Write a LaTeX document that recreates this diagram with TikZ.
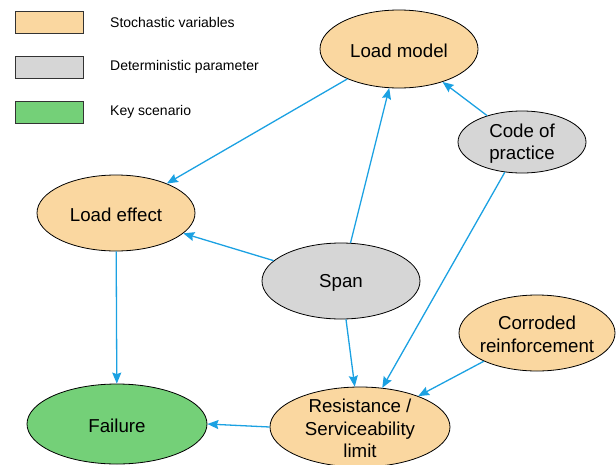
\documentclass[tikz,border=0pt]{standalone}
\usepackage{fontspec}
\setmainfont{Liberation Sans}
\usetikzlibrary{shapes.geometric,arrows.meta}
\definecolor{stoch}{RGB}{250,215,160}
\definecolor{detgray}{RGB}{214,214,214}
\definecolor{keygreen}{RGB}{116,208,120}
\definecolor{arrowblue}{RGB}{27,161,226}
\begin{document}
\begin{tikzpicture}[x=1pt,y=-1pt,
  ell/.style={ellipse,draw=black,line width=0.8pt,inner sep=0pt},
  nodetext/.style={font=\fontsize{18.7}{22.5}\selectfont,align=center,inner sep=0pt,yshift=-1.5pt},
  legbox/.style={draw=black!80,line width=0.8pt,minimum width=68pt,minimum height=22pt,inner sep=0pt},
  legtext/.style={font=\fontsize{14}{16.8}\selectfont,anchor=west,inner sep=0pt},
  link/.style={draw=arrowblue,line width=1.3pt,-{Stealth[length=11pt,width=9pt,inset=1.5pt]}}]
\useasboundingbox (0,0) rectangle (616,464);
% legend
\node[legbox,fill=stoch] (l1) at (49,22) {};
\node[legbox,fill=detgray] (l2) at (49,67) {};
\node[legbox,fill=keygreen] (l3) at (49,112) {};
\node[legtext] (t1) at (110,22) {Stochastic variables};
\node[legtext] (t2) at (110,67) {Deterministic parameter};
\node[legtext] (t3) at (110,112) {Key scenario};
% nodes
\node[ell,fill=stoch,minimum width=158pt,minimum height=78pt,
  label={[nodetext]center:Load model}] (lm) at (399,49) {};
\node[ell,fill=detgray,minimum width=128pt,minimum height=62pt,
  label={[nodetext]center:Code of\\practice}] (cp) at (522,142) {};
\node[ell,fill=stoch,minimum width=158pt,minimum height=76pt,
  label={[nodetext]center:Load effect}] (le) at (116,213) {};
\node[ell,fill=detgray,minimum width=158pt,minimum height=76pt,
  label={[nodetext]center:Span}] (sp) at (341,281) {};
\node[ell,fill=stoch,minimum width=156pt,minimum height=76pt,
  label={[nodetext]center:Corroded\\reinforcement}] (cr) at (537,333) {};
\node[ell,fill=keygreen,minimum width=180pt,minimum height=80pt,
  label={[nodetext]center:Failure}] (fa) at (117,424) {};
\node[ell,fill=stoch,minimum width=180pt,minimum height=80pt,
  label={[nodetext]center:Resistance /\\Serviceability\\limit}] (rs) at (360,427) {};
% connectors
\draw[link] (lm) -- (le);
\draw[link] (sp) -- (lm);
\draw[link] (cp) -- (lm);
\draw[link] (sp) -- (le);
\draw[link] (le) -- (fa);
\draw[link] (sp) -- (rs);
\draw[link] (cp) -- (rs);
\draw[link] (cr) -- (rs);
\draw[link] (rs.west) -- (fa.east);
\end{tikzpicture}
\end{document}
